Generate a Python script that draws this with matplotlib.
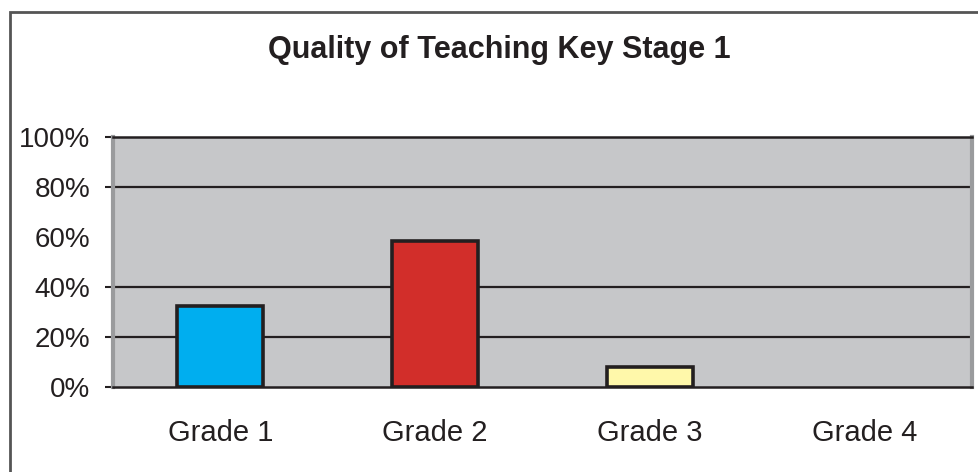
import matplotlib
matplotlib.use("Agg")
import matplotlib.pyplot as plt
from matplotlib.patches import Rectangle

grades = ["Grade 1", "Grade 2", "Grade 3", "Grade 4"]
values = [32.5, 58.5, 8, 0]
colors = ["#00aeef", "#d22e2a", "#fff8aa", "#c6c7c9"]
yticks = [0, 20, 40, 60, 80, 100]
gridvals = [20, 40, 80]

plt.rcParams['font.family'] = ['Liberation Sans Narrow', 'Liberation Sans', 'DejaVu Sans']

fig = plt.figure(figsize=(9.79, 4.72), dpi=100)
ax = fig.add_axes([113/979, 1-387.3/472, (971.7-113)/979, (387.3-137.3)/472])

# outer frame
fig.patches.append(Rectangle((10/979, -0.1), 1.2, 1-12/472+0.1, transform=fig.transFigure,
                             fill=False, edgecolor="#555555", linewidth=2))

ax.set_facecolor("#c6c7c9")
x = range(len(grades))
for v in gridvals:
    ax.axhline(v, color="#231f20", linewidth=1.6, zorder=1)
edges = ["#231f20" if v > 0 else "none" for v in values]
ax.bar(x, values, width=0.4, color=colors, edgecolor=edges, linewidth=2.6, zorder=3)

ax.set_xlim(-0.5, 3.5)
ax.set_ylim(0, 100)
ax.set_yticks(yticks)
ax.set_yticklabels([f"{t}%" for t in yticks], fontsize=20, color="#231f20")
ax.set_xticks(list(x))
ax.set_xticklabels(grades, fontsize=21, color="#231f20")
ax.tick_params(axis='x', length=0, pad=23)
ax.tick_params(axis='y', length=5.5, width=1.5, color="#231f20", pad=11)
for t, tk in zip(yticks, ax.yaxis.get_major_ticks()):
    if t == 60:
        tk.tick1line.set_visible(False)

for s in ["top", "bottom"]:
    ax.spines[s].set_color("#231f20")
    ax.spines[s].set_linewidth(1.8)
for s in ["left", "right"]:
    ax.spines[s].set_color("#9a9b9d")
    ax.spines[s].set_linewidth(3)

fig.text(499/979, 1-58/472, "Quality of Teaching Key Stage 1", ha="center", va="baseline",
         fontsize=22, fontweight="bold", color="#231f20")

fig.savefig("out.png", dpi=100)
